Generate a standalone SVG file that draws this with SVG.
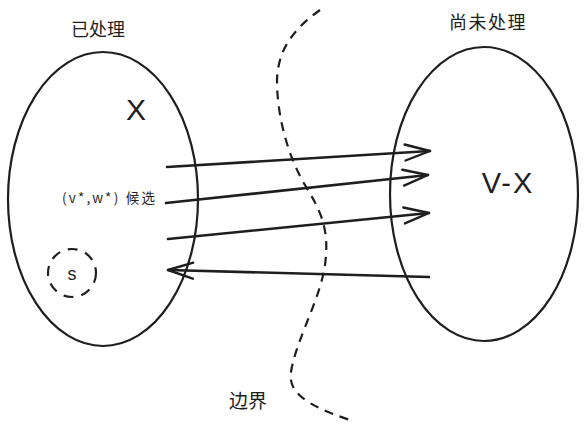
<svg xmlns="http://www.w3.org/2000/svg" width="588" height="435" viewBox="0 0 588 435">
<defs>
<style>
.sh{fill:none;stroke:#1e1e1e;stroke-width:2.2}
.ar{fill:none;stroke:#1e1e1e;stroke-width:2.6;stroke-linecap:round}
.dash{fill:none;stroke:#1e1e1e;stroke-width:2.2;stroke-dasharray:9 7}
.cn{font-family:"Noto Sans CJK SC","Liberation Sans",sans-serif;fill:#1e1e1e}
.lt{font-family:"Liberation Sans","Noto Sans CJK SC",sans-serif;fill:#1e1e1e}
</style>
<marker id="head" markerUnits="userSpaceOnUse" markerWidth="40" markerHeight="40" refX="0" refY="0" orient="auto" overflow="visible">
<path d="M-25,-8 L0,0 L-25,8" fill="none" stroke="#1e1e1e" stroke-width="2.4" stroke-linecap="round" stroke-linejoin="round"/>
</marker>
</defs>
<rect width="588" height="435" fill="#ffffff"/>

<g id="processed">
<ellipse class="sh" cx="103" cy="199" rx="95" ry="147"/>
<text class="cn" x="98" y="36" font-size="18" text-anchor="middle">已处理</text>
<text class="lt" x="136" y="120" font-size="30" text-anchor="middle">X</text>
</g>

<g id="source">
<circle cx="72" cy="273" r="24" fill="none" stroke="#1e1e1e" stroke-width="2.2" stroke-dasharray="10 8"/>
<text class="lt" x="72" y="280" font-size="18" text-anchor="middle">s</text>
</g>

<g id="unprocessed">
<ellipse class="sh" cx="484" cy="194" rx="94" ry="147"/>
<text class="cn" x="488" y="29" font-size="18" text-anchor="middle" letter-spacing="1.5">尚未处理</text>
<text class="lt" x="508" y="193" font-size="29" text-anchor="middle" letter-spacing="2">V-X</text>
</g>

<g id="boundary">
<path class="dash" d="M320,10 C295,28 278,48 277,80 C277,120 290,160 305,185 C320,210 330,228 325,265 C320,300 296,340 291,372 C288,392 305,405 350,420"/>
<text class="cn" x="248" y="408" font-size="19" text-anchor="middle">边界</text>
</g>

<g id="candidate-label">
<text class="cn" x="62" y="203" font-size="13.5" textLength="93" lengthAdjust="spacing">(v*,w*) 候选</text>
</g>

<g id="connectors">
<line class="ar" x1="167" y1="167" x2="430" y2="151" marker-end="url(#head)"/>
<line class="ar" x1="166" y1="203" x2="428" y2="175" marker-end="url(#head)"/>
<line class="ar" x1="168" y1="239" x2="429" y2="213" marker-end="url(#head)"/>
<line class="ar" x1="429" y1="277" x2="168" y2="270" marker-end="url(#head)"/>
</g>
</svg>
